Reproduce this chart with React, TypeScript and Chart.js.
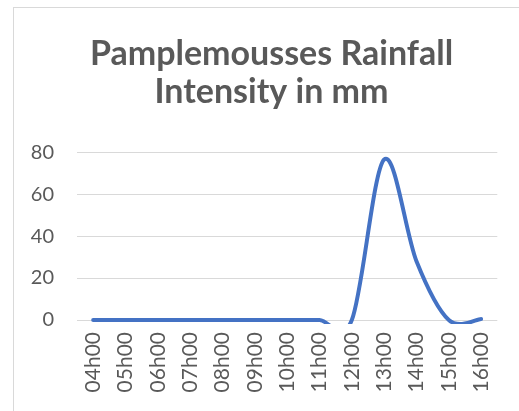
import React, { useEffect, useRef } from "react";
import { Chart, registerables } from "chart.js";

Chart.register(...registerables);

const categories = ["04h00", "05h00", "06h00", "07h00", "08h00", "09h00", "10h00", "11h00", "12h00", "13h00", "14h00", "15h00", "16h00"];
const rainfall = [0, 0, 0, 0, 0, 0, 0, 0, 0, 76.5, 28, 0, 0.5];
const titleLines = ["Pamplemousses Rainfall", "Intensity in mm"];
const yTicks = { min: 0, max: 80, step: 20 };

// Excel-like smoothing: Catmull-Rom control points computed from the scaled point positions
const excelSmooth = {
  id: "excelSmooth",
  beforeDatasetDraw(chart: any, args: any) {
    const meta = args.meta;
    const pts = meta.data;
    const n = pts.length;
    for (let i = 0; i < n; i++) {
      const p = pts[i];
      const prev = pts[i - 1] || p;
      const next = pts[i + 1] || p;
      const dx = (next.x - prev.x) / 6;
      const dy = (next.y - prev.y) / 6;
      p.cp1x = p.x - dx;
      p.cp1y = p.y - dy;
      p.cp2x = p.x + dx;
      p.cp2y = p.y + dy;
    }
    if (meta.dataset) {
      meta.dataset._pointsUpdated = true;
      delete meta.dataset._path;
    }
  },
};

const titleShift = {
  id: "titleShift",
  afterLayout(chart: any) {
    const t = chart.titleBlock;
    if (t) {
      t.left += 14;
      t.right += 14;
    }
  },
};

export default function App() {
  const ref = useRef<HTMLCanvasElement>(null);
  useEffect(() => {
    if (!ref.current) return;
    const grey = "#595959";
    const chart = new Chart(ref.current, {
      type: "line",
      data: {
        labels: categories,
        datasets: [
          {
            data: rainfall,
            borderColor: "#4472C4",
            backgroundColor: "#4472C4",
            borderWidth: 4,
            borderCapStyle: "round",
            borderJoinStyle: "round",
            pointRadius: 0,
            tension: 0.4,
            capBezierPoints: false,
            fill: false,
            clip: { left: 5, right: 5, top: 5, bottom: 4 },
          },
        ],
      },
      plugins: [excelSmooth, titleShift],
      options: {
        responsive: false,
        animation: false,
        devicePixelRatio: 1,
        layout: { padding: { left: 13, right: 17, top: 36, bottom: 6 } },
        plugins: {
          legend: { display: false },
          tooltip: { enabled: false },
          title: {
            display: true,
            text: titleLines,
            color: grey,
            font: { family: "Lato", size: 34, weight: "bold", lineHeight: 1.09 },
            padding: { top: 0, bottom: 42 },
          },
        },
        scales: {
          x: {
            offset: true,
            grid: { display: false, drawTicks: false },
            border: { display: false },
            ticks: {
              color: grey,
              font: { family: "Lato", size: 21 },
              minRotation: 90,
              maxRotation: 90,
              padding: 12,
              autoSkip: false,
            },
            afterFit: (s: any) => {
              s.height = 85;
            },
          },
          y: {
            min: yTicks.min,
            max: yTicks.max,
            grid: { color: "#d9d9d9", lineWidth: 1, drawTicks: false },
            border: { display: false },
            ticks: {
              stepSize: yTicks.step,
              color: grey,
              font: { family: "Lato", size: 20 },
              padding: 23,
            },
            afterFit: (s: any) => {
              s.width = 64;
            },
          },
        },
      },
    });
    return () => chart.destroy();
  }, []);
  return (
    <div style={{ position: "absolute", left: 0, top: 0, width: 519, height: 411, background: "#fff", overflow: "hidden" }}>
      <div
        style={{
          position: "absolute",
          left: 13,
          top: 7,
          width: 520,
          height: 420,
          borderLeft: "1px solid #d9d9d9",
          borderTop: "1px solid #d9d9d9",
        }}
      />
      <canvas ref={ref} width={519} height={411} style={{ position: "absolute", left: 0, top: 0, display: "block" }} />
    </div>
  );
}
